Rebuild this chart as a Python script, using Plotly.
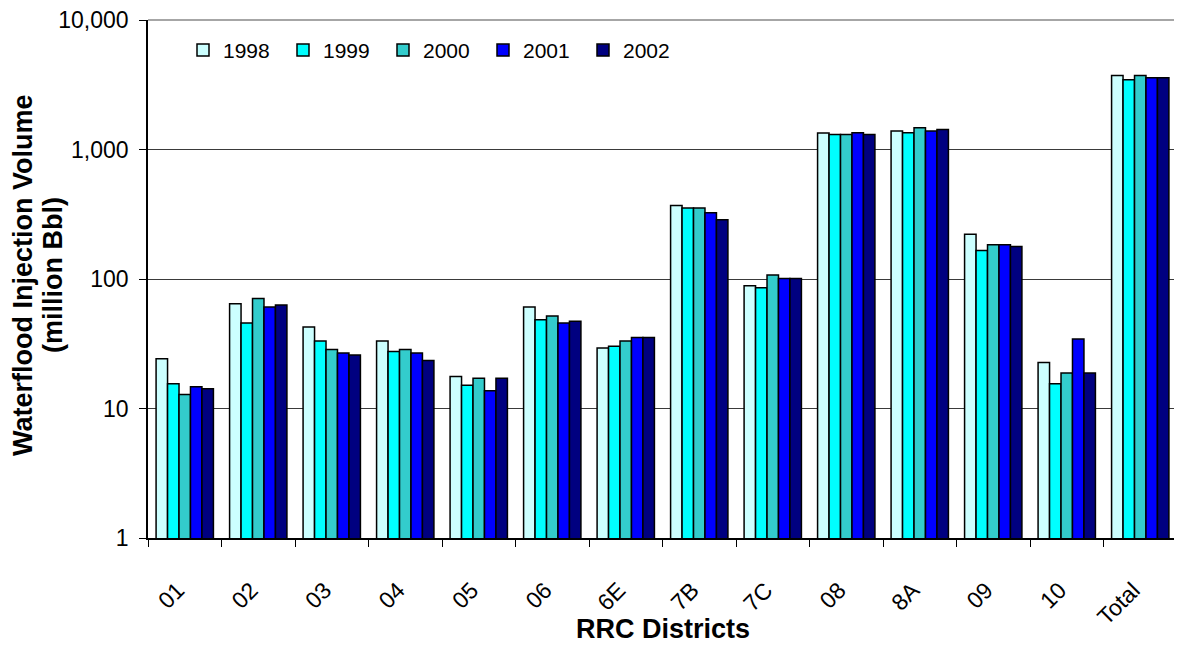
import plotly.graph_objects as go

districts = ["01", "02", "03", "04", "05", "06", "6E", "7B", "7C", "08", "8A", "09", "10", "Total"]
years = ["1998", "1999", "2000", "2001", "2002"]
colors = ["#CCFFFF", "#00FFFF", "#33CCCC", "#0000FF", "#000080"]

v1998 = [24.2, 64.4, 42.6, 33.2, 17.7, 60.8, 29.3, 370, 88.8, 1341, 1390, 222, 22.7, 3724]
v1999 = [15.5, 45.7, 33.2, 27.6, 15.1, 48.5, 30.2, 354, 85.7, 1308, 1349, 166, 15.5, 3459]
v2000 = [12.8, 70.8, 28.5, 28.5, 17.1, 51.8, 33.2, 354, 107.4, 1308, 1473, 184, 18.8, 3724]
v2001 = [14.7, 60.8, 26.8, 26.8, 13.7, 45.7, 35.4, 325, 101, 1349, 1390, 184, 34.4, 3589]
v2002 = [14.2, 63.0, 25.9, 23.5, 17.1, 47.1, 35.4, 287, 101, 1308, 1429, 178, 18.8, 3589]
series = [v1998, v1999, v2000, v2001, v2002]

ytickvals = [1, 10, 100, 1000, 10000]
yticktext = ["1", "10", "100", "1,000", "10,000"]

fig = go.Figure()
for name, vals, col in zip(years, series, colors):
    fig.add_trace(go.Bar(
        x=districts, y=vals, name=name,
        marker=dict(color=col, line=dict(color="#000000", width=1.5)),
    ))

font_family = "Liberation Sans, Arial, sans-serif"
OFF = 8  # page body margin
W, H = 1182, 649
L = 148 - OFF
T = 19.5 - OFF
R = W - (1177 - OFF)
B = H - (538.5 - OFF)
pw = W - L - R
ph = H - T - B


def px_x(px):
    # page pixel -> paper fraction
    return (px - OFF - L) / pw


def px_y(py):
    return (H - B - (py - OFF)) / ph


fig.update_layout(
    width=W, height=H,
    margin=dict(l=L, r=R, t=T, b=B, autoexpand=False),
    paper_bgcolor="white", plot_bgcolor="white",
    barmode="group", bargap=0.22, bargroupgap=0,
    font=dict(family=font_family, size=21, color="#000000"),
    showlegend=True,
    legend=dict(
        orientation="h", x=px_x(183), y=px_y(50), xanchor="left", yanchor="middle",
        font=dict(size=21), entrywidth=55, entrywidthmode="pixels",
        bgcolor="rgba(0,0,0,0)", tracegroupgap=0,
    ),
    xaxis=dict(
        type="category", tickangle=-45, showgrid=False, automargin=False,
        ticks="outside", tickson="boundaries", ticklen=7, tickwidth=1, tickcolor="#000",
        showline=True, linecolor="#000", linewidth=1.5,
        tickfont=dict(size=23), ticklabelstandoff=28, ticklabelshift=-7,
        ticklabeloverflow="allow",
    ),
    yaxis=dict(
        type="log", range=[0, 4], tickvals=ytickvals, ticktext=yticktext,
        showgrid=True, gridcolor="#3a3a3a", gridwidth=1, automargin=False,
        ticks="outside", ticklen=7, tickwidth=1, tickcolor="#000",
        showline=True, linecolor="#000", linewidth=1.5,
        tickfont=dict(size=23), ticklabelstandoff=6,
        ticklabeloverflow="allow",
    ),
    shapes=[
        dict(type="line", xref="paper", yref="paper", x0=0, x1=1, y0=1, y1=1,
             line=dict(color="#a6a6a6", width=2)),
        dict(type="line", xref="paper", yref="paper", x0=1, x1=1, y0=0, y1=1,
             line=dict(color="#a6a6a6", width=2)),
    ],
    annotations=[
        dict(text="<b>Waterflood Injection Volume</b>", textangle=-90, showarrow=False,
             xref="paper", yref="paper", x=px_x(23), y=px_y(275),
             xanchor="center", yanchor="middle", font=dict(size=27)),
        dict(text="<b>(million Bbl)</b>", textangle=-90, showarrow=False,
             xref="paper", yref="paper", x=px_x(53), y=px_y(275),
             xanchor="center", yanchor="middle", font=dict(size=27)),
        dict(text="<b>RRC Districts</b>", showarrow=False,
             xref="paper", yref="paper", x=px_x(663), y=px_y(630),
             xanchor="center", yanchor="middle", font=dict(size=27)),
    ],
)

fig.write_html("out.html")
